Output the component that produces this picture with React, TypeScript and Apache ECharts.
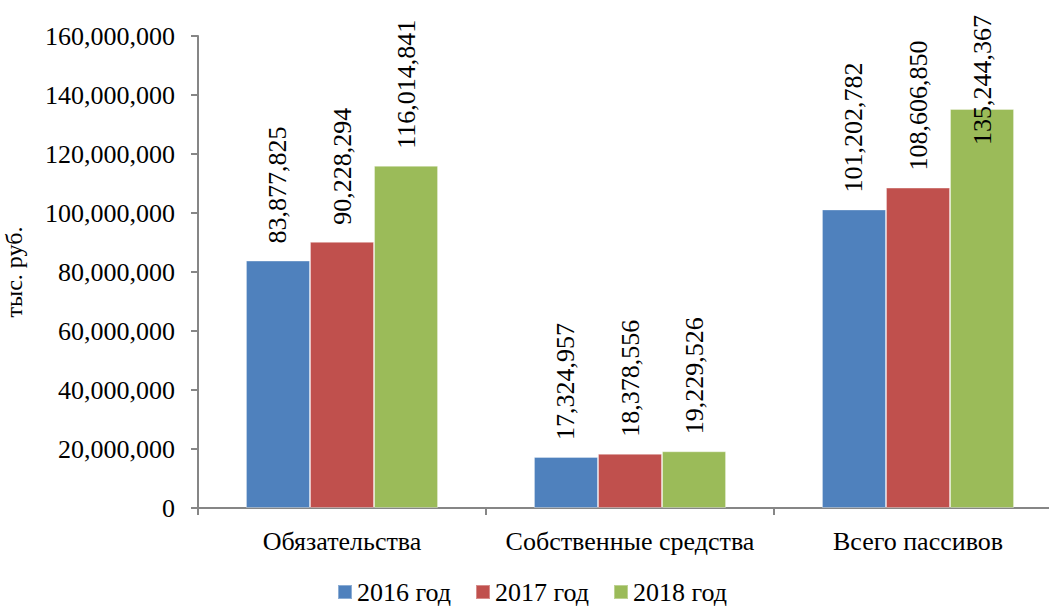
import React, { useEffect, useRef } from "react";
import * as echarts from "echarts";

const categories = ["Обязательства", "Собственные средства", "Всего пассивов"];
const years = ["2016 год", "2017 год", "2018 год"];
const values2016 = [83877825, 17324957, 101202782];
const values2017 = [90228294, 18378556, 108606850];
const values2018 = [116014841, 19229526, 135244367];
const colors = ["#4F81BD", "#C0504D", "#9BBB59"];
const yTicks = [0, 20000000, 40000000, 60000000, 80000000, 100000000, 120000000, 140000000, 160000000];

const FONT = "Liberation Serif";
const fmt = (v: number) => v.toLocaleString("en-US");

export default function App() {
  const ref = useRef<HTMLDivElement>(null);

  useEffect(() => {
    if (!ref.current) return;
    const chart = echarts.init(ref.current, undefined, { renderer: "svg" });
    const seriesData = [values2016, values2017, values2018];
    const yMax = yTicks[yTicks.length - 1];

    chart.setOption({
      animation: false,
      backgroundColor: "#ffffff",
      textStyle: { fontFamily: FONT },
      grid: {
        left: 198,
        top: 36,
        width: 864,
        height: 472,
        containLabel: false,
        outerBoundsMode: "none",
      },
      legend: {
        data: years,
        left: 332,
        top: 574,
        itemWidth: 14,
        itemHeight: 14,
        itemGap: 24,
        icon: "rect",
        textStyle: { fontFamily: FONT, fontSize: 26, color: "#000" },
      },
      xAxis: {
        type: "category",
        data: categories,
        axisLine: { lineStyle: { color: "#868686", width: 2 } },
        axisTick: { show: true, length: 7, lineStyle: { color: "#868686", width: 2 } },
        axisLabel: { interval: 0, fontFamily: FONT, fontSize: 26, color: "#000", margin: 20 },
      },
      yAxis: {
        type: "value",
        min: 0,
        max: yMax,
        interval: 20000000,
        name: "тыс. руб.",
        nameLocation: "middle",
        nameGap: 172,
        nameTextStyle: { fontFamily: FONT, fontSize: 24, color: "#000" },
        axisLine: { show: true, lineStyle: { color: "#868686", width: 2 } },
        axisTick: { show: true, length: 7, lineStyle: { color: "#868686", width: 2 } },
        splitLine: { show: false },
        axisLabel: {
          fontFamily: FONT,
          fontSize: 26,
          color: "#000",
          margin: 23,
          formatter: (v: number) => fmt(v),
        },
      },
      series: years.map((name, i) => ({
        name,
        type: "bar",
        barGap: "0%",
        barCategoryGap: "33.3%",
        itemStyle: { color: colors[i], borderColor: "rgba(255,255,255,0.35)", borderWidth: 1 },
        label: {
          show: true,
          position: "top",
          rotate: 90,
          align: "left",
          verticalAlign: "middle",
          distance: 17,
          fontFamily: FONT,
          fontSize: 26,
          color: "#000",
          formatter: (p: any) => fmt(p.value),
        },
        data: seriesData[i].map((v) =>
          v > yMax * 0.8 ? { value: v, label: { distance: -36 } } : v
        ),
      })),
    });

    return () => chart.dispose();
  }, []);

  return (
    <div
      style={{
        position: "fixed",
        left: 0,
        top: 0,
        width: 1049,
        height: 606,
        overflow: "hidden",
        background: "#fff",
      }}
    >
      <div ref={ref} style={{ width: 1080, height: 606 }} />
    </div>
  );
}
